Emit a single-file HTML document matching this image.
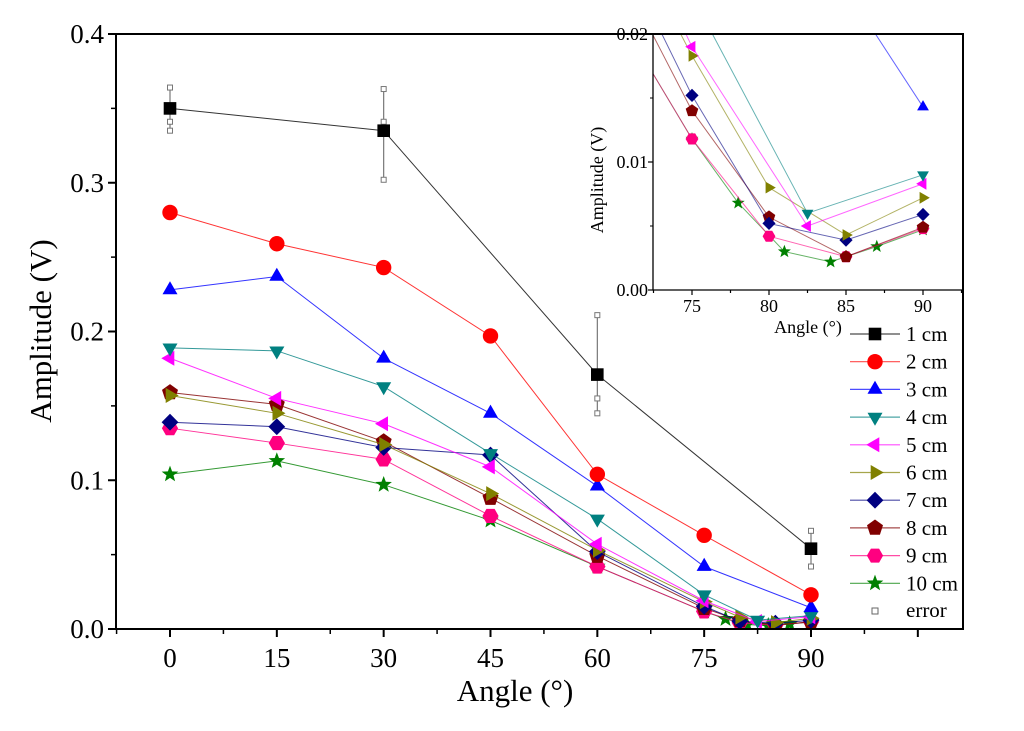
<!DOCTYPE html>
<html><head><meta charset="utf-8"><style>
body{margin:0;background:#fff;}
svg text{font-family:"Liberation Serif",serif;}
</style></head><body>
<svg id="c" width="1024" height="726" xmlns="http://www.w3.org/2000/svg"></svg>
<script>
const seriesNames=["1 cm","2 cm","3 cm","4 cm","5 cm","6 cm","7 cm","8 cm","9 cm","10 cm"];
const xs1=[0,30,60,90];
const ys1=[0.350,0.335,0.171,0.054];
const errLo=[0.335,0.302,0.145,0.042];
const errHi=[0.364,0.363,0.211,0.066];
const errMid=[0.341,0.341,0.155,0.054];
const xs2=[0,15,30,45,60,75,90];
const ys2=[0.280,0.259,0.243,0.197,0.104,0.063,0.023];
const xs3=[0,15,30,45,60,75,90];
const ys3=[0.228,0.237,0.182,0.145,0.096,0.042,0.0143];
const xs4=[0,15,30,45,60,75,82.5,90];
const ys4=[0.189,0.187,0.163,0.118,0.074,0.023,0.006,0.009];
const xs5=[0,15,30,45,60,75,82.5,90];
const ys5=[0.182,0.155,0.138,0.109,0.057,0.019,0.005,0.0083];
const xs6=[0,15,30,45,60,75,80,85,90];
const ys6=[0.157,0.145,0.124,0.091,0.053,0.0183,0.008,0.0043,0.0072];
const xs7=[0,15,30,45,60,75,80,85,90];
const ys7=[0.139,0.136,0.122,0.117,0.052,0.0152,0.0052,0.0039,0.0059];
const xs8=[0,15,30,45,60,75,80,85,90];
const ys8=[0.159,0.151,0.126,0.088,0.049,0.014,0.0057,0.0026,0.0049];
const xs9=[0,15,30,45,60,75,80,85,90];
const ys9=[0.135,0.125,0.114,0.076,0.042,0.0118,0.0042,0.0026,0.0048];
const xs10=[0,15,30,45,60,75,78,81,84,87,90];
const ys10=[0.104,0.113,0.097,0.073,0.042,0.0118,0.0068,0.003,0.0022,0.0034,0.0047];
const mainXTicks=[0,15,30,45,60,75,90];
const mainYTicks=["0.0","0.1","0.2","0.3","0.4"];
const insetXTicks=[75,80,85,90];
const insetYTicks=["0.00","0.01","0.02"];

const XS=[xs1,xs2,xs3,xs4,xs5,xs6,xs7,xs8,xs9,xs10];
const YS=[ys1,ys2,ys3,ys4,ys5,ys6,ys7,ys8,ys9,ys10];
const colors=["#000000","#ff0000","#0000ff","#008080","#ff00ff","#808000","#000080","#800000","#ff0080","#008000"];
const shapes=["square","circle","up","down","left","right","diamond","pentagon","hexagon","star"];
const NS="http://www.w3.org/2000/svg";
const svg=document.getElementById('c');
function el(tag,attrs,parent){const e=document.createElementNS(NS,tag);for(const k in attrs)e.setAttribute(k,attrs[k]);(parent||svg).appendChild(e);return e;}
const L=116,R=963,T=34,B=629;
const mx=v=>170+v*(811-170)/90;
const my=v=>B-v*(B-T)/0.4;
const iL=653,iR=963,iT=34,iB=290;
const ix=v=>692+(v-75)*(923-692)/15;
const iy=v=>iB-v*(iB-iT)/0.02;

function poly(r,n,rot){let p=[];for(let i=0;i<n;i++){const a=rot+i*2*Math.PI/n;p.push([r*Math.cos(a),r*Math.sin(a)]);}return p;}
function marker(shape,cx,cy,s,color,parent,name){
  let pts;
  if(shape==="circle"){const c=el('circle',{cx:cx,cy:cy,r:s*0.55,fill:color},parent);return;}
  if(shape==="square")pts=[[-1,-1],[1,-1],[1,1],[-1,1]].map(p=>[p[0]*s*0.45,p[1]*s*0.45]);
  else if(shape==="up")pts=poly(s*0.62,3,-Math.PI/2);
  else if(shape==="down")pts=poly(s*0.62,3,Math.PI/2);
  else if(shape==="left")pts=poly(s*0.62,3,Math.PI);
  else if(shape==="right")pts=poly(s*0.62,3,0);
  else if(shape==="diamond")pts=poly(s*0.6,4,0);
  else if(shape==="pentagon")pts=poly(s*0.6,5,-Math.PI/2);
  else if(shape==="hexagon")pts=poly(s*0.58,6,0);
  else if(shape==="star"){pts=[];for(let i=0;i<10;i++){const r=i%2?s*0.26:s*0.62;const a=-Math.PI/2+i*Math.PI/5;pts.push([r*Math.cos(a),r*Math.sin(a)]);}}
  const p=el('polygon',{points:pts.map(q=>(cx+q[0]).toFixed(1)+","+(cy+q[1]).toFixed(1)).join(" "),fill:color},parent);
  
  
}
el('defs',{}).innerHTML='<clipPath id="mc"><rect x="'+L+'" y="'+T+'" width="'+(R-L)+'" height="'+(B-T)+'"/></clipPath><clipPath id="ic"><rect x="'+iL+'" y="'+iT+'" width="'+(iR-iL)+'" height="'+(iB-iT)+'"/></clipPath>';

const mg=el('g',{'clip-path':'url(#mc)'});


for(let i=0;i<xs1.length;i++){
  const x=mx(xs1[i]);
  const l=el('line',{x1:x,x2:x,y1:my(errLo[i]),y2:my(errHi[i]),stroke:'#777','stroke-width':1.2},mg);
  
  
  [errLo[i],errHi[i],errMid[i]].forEach(v=>{const r=el('rect',{x:x-2.5,y:my(v)-2.5,width:5,height:5,fill:'#fff',stroke:'#777','stroke-width':1},mg);});
}
for(let s=9;s>=0;s--){
  const pl=el('polyline',{points:XS[s].map((x,i)=>mx(x)+","+my(YS[s][i])).join(" "),fill:'none',stroke:colors[s],'stroke-width':1,'stroke-opacity':0.8},mg);
  
  
  XS[s].forEach((x,i)=>marker(shapes[s],mx(x),my(YS[s][i]),14,colors[s],mg,'point-'+(s+1)+'cm'));
}
const fr=el('rect',{x:L,y:T,width:R-L,height:B-T,fill:'none',stroke:'#000','stroke-width':2});


mainYTicks.forEach((t,i)=>{const y=my(parseFloat(t));
  const tk=el('line',{x1:L-8,x2:L,y1:y,y2:y,stroke:'#000','stroke-width':2});
  if(i<mainYTicks.length-1){const ym=my(parseFloat(t)+0.05);const m=el('line',{x1:L-5,x2:L,y1:ym,y2:ym,stroke:'#000','stroke-width':1.5});}
  const tx=el('text',{x:L-12,y:y+9,'font-size':27,'text-anchor':'end'});tx.textContent=t;
});
for(let v=-7.5;v<=112.5;v+=7.5){const x=mx(v);if(x<L-1||x>R+1)continue;const major=(v%15===0);
  const tk=el('line',{x1:x,x2:x,y1:B,y2:B+(major?8:5),stroke:'#000','stroke-width':major?2:1.5});}
mainXTicks.forEach(t=>{const tx=el('text',{x:mx(t),y:667,'font-size':27,'text-anchor':'middle'});tx.textContent=t;});
const xt=el('text',{x:515,y:701,'font-size':31,'text-anchor':'middle'});xt.textContent='Angle (°)';
const yt=el('text',{x:0,y:0,'font-size':31,'text-anchor':'middle',transform:'translate(51,331) rotate(-90)'});yt.textContent='Amplitude (V)';

const ib=el('rect',{x:iL,y:iT,width:iR-iL,height:iB-iT,fill:'#fff'});


const ig=el('g',{'clip-path':'url(#ic)'});


for(let s=9;s>=0;s--){
  const pl=el('polyline',{points:XS[s].map((x,i)=>ix(x)+","+iy(YS[s][i])).join(" "),fill:'none',stroke:colors[s],'stroke-width':1,'stroke-opacity':0.6},ig);
  
  
  XS[s].forEach((x,i)=>{if(x>=72)marker(shapes[s],ix(x),iy(YS[s][i]),11,colors[s],ig,'inset-point-'+(s+1)+'cm');});
}
const ia=el('polyline',{points:iL+","+iT+" "+iL+","+iB+" "+iR+","+iB,fill:'none',stroke:'#000','stroke-width':1.3});


const itop=el('line',{x1:iL,x2:iR,y1:iT,y2:iT,stroke:'#000','stroke-width':2});


const irt=el('line',{x1:iR,x2:iR,y1:iT,y2:B,stroke:'#000','stroke-width':2});


insetYTicks.forEach((t,i)=>{const y=iy(parseFloat(t));
  const tk=el('line',{x1:iL-5,x2:iL,y1:y,y2:y,stroke:'#000','stroke-width':1.2});
  if(i<insetYTicks.length-1){const ym=iy(parseFloat(t)+0.005);const m=el('line',{x1:iL-3,x2:iL,y1:ym,y2:ym,stroke:'#000','stroke-width':1});}
  const tx=el('text',{x:iL-5,y:y+6,'font-size':18,'text-anchor':'end'});tx.textContent=t;
});
for(let v=72.5;v<=92.5;v+=2.5){const x=ix(v);const major=(v%5===0);
  const tk=el('line',{x1:x,x2:x,y1:iB,y2:iB+(major?5:3),stroke:'#000','stroke-width':1.2});}
insetXTicks.forEach(t=>{const tx=el('text',{x:ix(t),y:312,'font-size':18,'text-anchor':'middle'});tx.textContent=t;});
const ixt=el('text',{x:808,y:333,'font-size':18,'text-anchor':'middle'});ixt.textContent='Angle (°)';
const iyt=el('text',{x:0,y:0,'font-size':18,'text-anchor':'middle',transform:'translate(603,180) rotate(-90)'});iyt.textContent='Amplitude (V)';

const lg=el('g',{});


seriesNames.forEach((n,s)=>{const y=334+s*27.7;
  const ln=el('line',{x1:850,x2:900,y1:y,y2:y,stroke:colors[s],'stroke-width':1.2,'stroke-opacity':0.7},lg);
  marker(shapes[s],875,y,14,colors[s],lg,'legend-marker');
  const tx=el('text',{x:906,y:y+7,'font-size':21},lg);tx.textContent=n;
});
const ey=334+10*27.7;
const er=el('rect',{x:872,y:ey-3,width:6,height:6,fill:'#fff',stroke:'#666','stroke-width':1},lg);


const et=el('text',{x:906,y:ey+6,'font-size':21},lg);et.textContent='error';


</script>
</body></html>
